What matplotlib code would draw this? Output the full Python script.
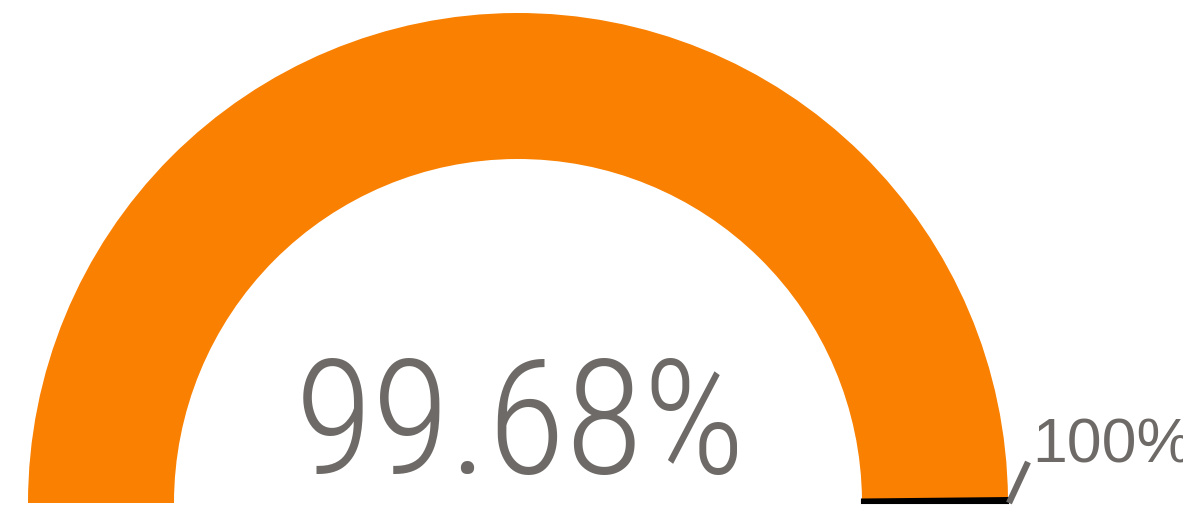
import matplotlib
matplotlib.use("Agg")
import matplotlib.pyplot as plt
from matplotlib.patches import Wedge

# gauge data
value = 99.68
max_value = 100
value_label = "99.68%"
max_label = "100%"

orange = "#F98000"
grey = "#6E6A67"

W, H = 1183, 506
fig = plt.figure(figsize=(W / 100, H / 100), dpi=100)
ax = fig.add_axes([0, 0, 1, 1])
ax.set_xlim(0, W)
ax.set_ylim(0, H)
ax.set_aspect("equal")
ax.axis("off")

cx, cy = 518, 2
r_out, r_in = 490, 344

split = 180 - 180 * value / max_value
ax.add_patch(Wedge((cx, cy), r_out, split, 180, width=r_out - r_in,
                   facecolor=orange, edgecolor="none"))
ax.add_patch(Wedge((cx, cy), r_out, 0, split, width=r_out - r_in,
                   facecolor="black", edgecolor="black", lw=1.5))

# max marker + label
tx = cx + r_out
ax.plot([tx + 1, tx + 20], [cy, cy + 41], color=grey, lw=4.5,
        solid_capstyle="butt")
ax.text(tx + 24, cy + 41, max_label, color=grey, fontsize=45,
        family=["Liberation Sans", "DejaVu Sans"], ha="left", va="baseline")

ax.text(cx + 2, cy + 31, value_label, color=grey, fontsize=115,
        family=["Roboto Condensed", "Liberation Sans Narrow", "Roboto", "DejaVu Sans"],
        fontweight="light", ha="center", va="baseline")

fig.savefig("out.png", dpi=100)
